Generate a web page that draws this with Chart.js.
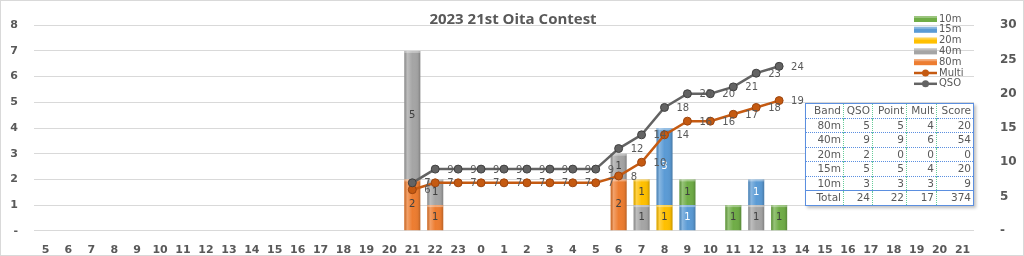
<!DOCTYPE html>
<html>
<head>
<meta charset="utf-8">
<script src="https://cdn.jsdelivr.net/npm/chart.js@4"></script>
<style>
  body { margin: 0; background: #fff; }
  #wrap { position: relative; width: 1024px; height: 256px; }
  #score {
    position: absolute; left: 805px; top: 103px; width: 169px; table-layout: fixed;
    border-collapse: collapse; border: 1px solid #5b8fe0;
    font: 10.5px "DejaVu Sans", sans-serif; color: #595959;
    background: #fff; box-shadow: 2px 2px 3px rgba(0,0,0,0.25);
  }
  #score td { text-align: right; padding: 0 2px; height: 13.5px; line-height: 13px;
    border-left: 1px dotted #66cc99; border-top: 1px dotted #5b8fe0; }
  #score td:first-child { border-left: none; }
  #score tr:first-child td { border-top: none; }
  #score tr.total td { border-top: 1px solid #5b8fe0; }
</style>
</head>
<body>
<div id="wrap">
  <canvas id="chart" width="1024" height="256"></canvas>
  <table id="score"><colgroup><col style="width:38px"><col style="width:29px"><col style="width:34px"><col style="width:30px"><col style="width:37px"></colgroup><tbody id="scoreBody"></tbody></table>
</div>
<script>
const titleText = "2023 21st Oita Contest";
const hours = ["5","6","7","8","9","10","11","12","13","14","15","16","17","18","19","20",
  "21","22","23","0","1","2","3","4","5","6","7","8","9","10","11","12","13",
  "14","15","16","17","18","19","20","21"];

const _ = null;
// bars per hour (count of QSOs on each band)
const band80 = [_,_,_,_,_,_,_,_,_,_,_,_,_,_,_,_, 2,1,_,_,_,_,_,_,_, 2,_,_,_,_,_,_,_, _,_,_,_,_,_,_,_];
const band40 = [_,_,_,_,_,_,_,_,_,_,_,_,_,_,_,_, 5,1,_,_,_,_,_,_,_, 1,1,_,_,_,_,1,_, _,_,_,_,_,_,_,_];
const band20 = [_,_,_,_,_,_,_,_,_,_,_,_,_,_,_,_, _,_,_,_,_,_,_,_,_, _,1,1,_,_,_,_,_, _,_,_,_,_,_,_,_];
const band15 = [_,_,_,_,_,_,_,_,_,_,_,_,_,_,_,_, _,_,_,_,_,_,_,_,_, _,_,3,1,_,_,1,_, _,_,_,_,_,_,_,_];
const band10 = [_,_,_,_,_,_,_,_,_,_,_,_,_,_,_,_, _,_,_,_,_,_,_,_,_, _,_,_,1,_,1,_,1, _,_,_,_,_,_,_,_];
// running totals (right axis)
const multi  = [_,_,_,_,_,_,_,_,_,_,_,_,_,_,_,_, 6,7,7,7,7,7,7,7,7, 8,10,14,16,16,17,18,19, _,_,_,_,_,_,_,_];
const qso    = [_,_,_,_,_,_,_,_,_,_,_,_,_,_,_,_, 7,9,9,9,9,9,9,9,9, 12,14,18,20,20,21,23,24, _,_,_,_,_,_,_,_];

const leftTicks = [0,1,2,3,4,5,6,7,8];
const rightTicks = [0,5,10,15,20,25,30];

const tableHead = ["Band","QSO","Point","Mult","Score"];
const tableRows = [
  ["80m", 5, 5, 4, 20],
  ["40m", 9, 9, 6, 54],
  ["20m", 2, 0, 0, 0],
  ["15m", 5, 5, 4, 20],
  ["10m", 3, 3, 3, 9],
];
const tableTotal = ["Total", 24, 22, 17, 374];

const textGray = "#595959";
Chart.defaults.font.family = "'DejaVu Sans', sans-serif";
Chart.defaults.color = textGray;

// score table
const tbody = document.getElementById("scoreBody");
tbody.innerHTML = [tableHead, ...tableRows].map(r => "<tr>" + r.map(c => `<td>${c}</td>`).join("") + "</tr>").join("")
  + '<tr class="total">' + tableTotal.map(c => `<td>${c}</td>`).join("") + "</tr>";

const bandSets = [
  { label: "80m", data: band80, color: "#ed7d31", text: "#404040" },
  { label: "40m", data: band40, color: "#a5a5a5", text: "#404040" },
  { label: "20m", data: band20, color: "#ffc000", text: "#404040" },
  { label: "15m", data: band15, color: "#5b9bd5", text: "#ffffff" },
  { label: "10m", data: band10, color: "#70ad47", text: "#404040" },
];

const barDatasets = bandSets.map(b => ({
  type: "bar", label: b.label, data: b.data, backgroundColor: b.color,
  stack: "bands", yAxisID: "y", order: 2, labelColor: b.text,
  barPercentage: 0.7, categoryPercentage: 1,
}));

const lineDatasets = [
  { type: "line", label: "Multi", data: multi, yAxisID: "y1", order: 1,
    borderColor: "#c55a11", backgroundColor: "#c55a11", pointBorderColor: "#9c4510",
    borderWidth: 2.5, pointRadius: 4, pointBorderWidth: 1, spanGaps: false },
  { type: "line", label: "QSO", data: qso, yAxisID: "y1", order: 0,
    borderColor: "#636363", backgroundColor: "#636363", pointBorderColor: "#404040",
    borderWidth: 2.5, pointRadius: 4, pointBorderWidth: 1, spanGaps: false },
];

// bevel-ish shading on bars
const bevel = {
  id: "bevel",
  afterDatasetDraw(chart, args) {
    if (args.meta.type !== "bar") return;
    const ctx = chart.ctx;
    args.meta.data.forEach((el, i) => {
      if (args.meta._dataset.data[i] == null) return;
      const l = el.x - el.width / 2, w = el.width, top = el.y, h = el.base - el.y;
      const g = ctx.createLinearGradient(l, 0, l + w, 0);
      g.addColorStop(0, "rgba(0,0,0,0.12)");
      g.addColorStop(0.18, "rgba(255,255,255,0.28)");
      g.addColorStop(0.5, "rgba(255,255,255,0)");
      g.addColorStop(0.85, "rgba(0,0,0,0.04)");
      g.addColorStop(1, "rgba(0,0,0,0.22)");
      ctx.save();
      ctx.fillStyle = g;
      ctx.fillRect(l, top, w, h);
      ctx.fillStyle = "rgba(255,255,255,0.35)";
      ctx.fillRect(l, top, w, 2);
      ctx.restore();
    });
  }
};

// value labels on bars and line points
const valueLabels = {
  id: "valueLabels",
  afterDatasetsDraw(chart) {
    const ctx = chart.ctx;
    ctx.save();
    ctx.font = "10px 'DejaVu Sans'";
    ctx.textBaseline = "middle";
    chart.data.datasets.forEach((ds, di) => {
      const meta = chart.getDatasetMeta(di);
      meta.data.forEach((el, i) => {
        const v = ds.data[i];
        if (v == null) return;
        if (ds.type === "bar") {
          ctx.fillStyle = ds.labelColor;
          ctx.textAlign = "center";
          ctx.fillText(v, el.x, (el.y + el.base) / 2);
        } else {
          ctx.fillStyle = textGray;
          ctx.textAlign = "left";
          ctx.fillText(v, el.x + 12, el.y + 1);
        }
      });
    });
    ctx.restore();
  }
};

// title, legend and outer frame
const decor = {
  id: "decor",
  afterDraw(chart) {
    const ctx = chart.ctx;
    ctx.save();
    ctx.fillStyle = textGray;
    ctx.font = "bold 15px 'Open Sans'";
    ctx.textAlign = "center";
    ctx.textBaseline = "middle";
    ctx.fillText(titleText, 513, 20);

    const items = [...bandSets.slice().reverse().map(b => ({ label: b.label, color: b.color, bar: true })),
      { label: "Multi", color: "#c55a11" }, { label: "QSO", color: "#636363" }];
    ctx.font = "10px 'DejaVu Sans'";
    ctx.textAlign = "left";
    items.forEach((it, k) => {
      const y = 19 + k * 10.8;
      if (it.bar) {
        ctx.fillStyle = it.color;
        ctx.fillRect(914, y - 3, 23, 6);
        ctx.fillStyle = "rgba(255,255,255,0.3)";
        ctx.fillRect(914, y - 3, 23, 2);
      } else {
        ctx.strokeStyle = it.color;
        ctx.lineWidth = 2.5;
        ctx.beginPath(); ctx.moveTo(914, y); ctx.lineTo(937, y); ctx.stroke();
        ctx.fillStyle = it.color;
        ctx.beginPath(); ctx.arc(925.5, y, 3.5, 0, Math.PI * 2); ctx.fill();
      }
      ctx.fillStyle = textGray;
      ctx.fillText(it.label, 939, y);
    });

    ctx.strokeStyle = "#d9d9d9";
    ctx.lineWidth = 1;
    ctx.strokeRect(0.5, 0.5, 1023, 255);
    ctx.restore();
  }
};

new Chart(document.getElementById("chart"), {
  data: { labels: hours, datasets: [...barDatasets, ...lineDatasets] },
  options: {
    responsive: false,
    animation: false,
    layout: { padding: { top: 7, left: 0, right: 0, bottom: 0 } },
    plugins: { legend: { display: false }, tooltip: { enabled: false } },
    scales: {
      x: {
        stacked: true,
        grid: { display: false },
        border: { display: false },
        ticks: { autoSkip: false, maxRotation: 0, padding: 5, font: { size: 11, weight: "bold" } },
        afterFit(s) { s.height = 24; },
      },
      y: {
        stacked: true, position: "left", min: 0, max: 8,
        afterBuildTicks(s) { s.ticks = leftTicks.map(v => ({ value: v })); },
        grid: { color: "#d9d9d9", drawTicks: false },
        border: { display: false },
        ticks: { padding: 16, font: { size: 11, weight: "bold" }, callback: v => v === 0 ? "-" : v },
        afterFit(s) { s.width = 34; },
      },
      y1: {
        position: "right", min: 0, max: 30,
        afterBuildTicks(s) { s.ticks = rightTicks.map(v => ({ value: v })); },
        grid: { display: false },
        border: { display: false },
        ticks: { padding: 18, font: { size: 12, weight: "bold" }, callback: v => v === 0 ? "-" : v },
        afterFit(s) { s.width = 50; },
      },
    },
  },
  plugins: [bevel, valueLabels, decor],
});
</script>
</body>
</html>
